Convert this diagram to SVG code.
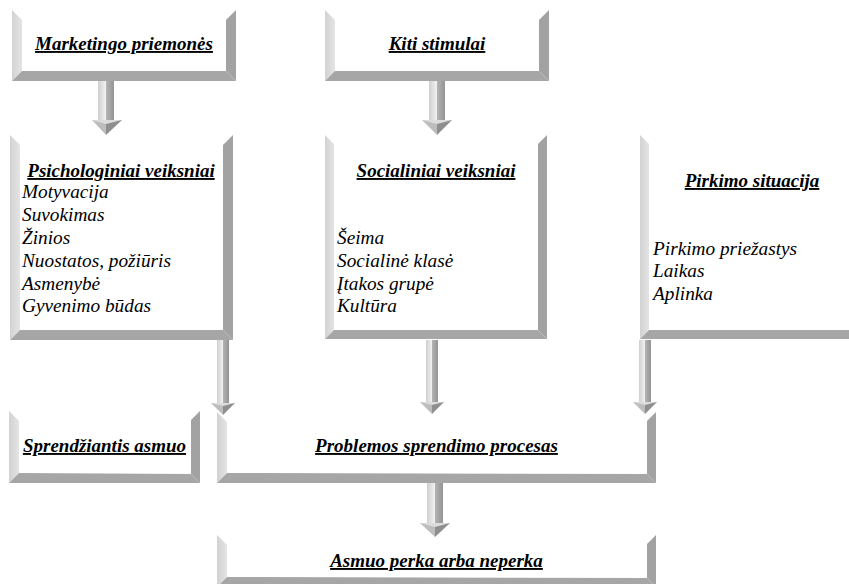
<svg xmlns="http://www.w3.org/2000/svg" width="849" height="584" viewBox="0 0 849 584">
  <style>
    .bl { fill: url(#bevelLeft); }
    .br { fill: #a2a2a2; }
    .bb { fill: #a6a6a6; }
    .title { font-family: "Liberation Serif", "Times New Roman", serif; font-size: 19px; font-weight: bold; font-style: italic; fill: #000; text-decoration: underline; text-decoration-thickness: 2px; text-anchor: middle; }
    .item { font-family: "Liberation Serif", "Times New Roman", serif; font-size: 19.3px; font-style: italic; fill: #000; }
    .sl { fill: url(#shaftLeft); }
    .sr { fill: url(#shaftRight); }
    .hl { fill: #bdbdbd; }
    .hr { fill: #8e8e8e; }
    .ht { fill: #dcdcdc; }
  </style>
  <defs>
    <linearGradient id="bevelLeft" x1="0" y1="0" x2="1" y2="0">
      <stop offset="0" stop-color="#d2d2d2"/>
      <stop offset="1" stop-color="#e4e4e4"/>
    </linearGradient>
    <linearGradient id="shaftLeft" x1="0" y1="0" x2="1" y2="0">
      <stop offset="0" stop-color="#cfcfcf"/>
      <stop offset="1" stop-color="#f2f2f2"/>
    </linearGradient>
    <linearGradient id="shaftRight" x1="0" y1="0" x2="1" y2="0">
      <stop offset="0" stop-color="#b4b4b4"/>
      <stop offset="1" stop-color="#949494"/>
    </linearGradient>
  </defs>

  <rect width="849" height="584" fill="#ffffff"/>

  <!-- connectors: block arrows -->
  <g id="connectors">
    <!-- Marketingo priemones -> Psichologiniai veiksniai -->
    <g id="arrow1">
      <rect class="sl" x="98" y="81" width="8" height="39"/>
      <rect class="sr" x="106" y="81" width="8" height="39"/>
      <polygon class="hl" points="92,120 106,120 106,135"/>
      <polygon class="hr" points="106,120 122,120 106,135"/>
      <polygon class="ht" points="92,120 122,120 106,124"/>
    </g>
    <!-- Kiti stimulai -> Socialiniai veiksniai -->
    <g id="arrow2">
      <rect class="sl" x="429" y="81" width="8" height="39"/>
      <rect class="sr" x="437" y="81" width="8" height="39"/>
      <polygon class="hl" points="422,120 437,120 437,135"/>
      <polygon class="hr" points="437,120 452,120 437,135"/>
      <polygon class="ht" points="422,120 452,120 437,124"/>
    </g>
    <!-- Psichologiniai veiksniai -> Problemos sprendimo procesas -->
    <g id="arrow3">
      <rect class="sl" x="217" y="340" width="6" height="63"/>
      <rect class="sr" x="223" y="340" width="6" height="63"/>
      <polygon class="hl" points="211,403 223,403 223,415"/>
      <polygon class="hr" points="223,403 235,403 223,415"/>
      <polygon class="ht" points="211,403 235,403 223,406"/>
    </g>
    <!-- Socialiniai veiksniai -> Problemos sprendimo procesas -->
    <g id="arrow4">
      <rect class="sl" x="426" y="340" width="6" height="62"/>
      <rect class="sr" x="432" y="340" width="6" height="62"/>
      <polygon class="hl" points="420,402 432,402 432,414"/>
      <polygon class="hr" points="432,402 444,402 432,414"/>
      <polygon class="ht" points="420,402 444,402 432,405"/>
    </g>
    <!-- Pirkimo situacija -> Problemos sprendimo procesas -->
    <g id="arrow5">
      <rect class="sl" x="639" y="340" width="6" height="62"/>
      <rect class="sr" x="645" y="340" width="6" height="62"/>
      <polygon class="hl" points="633,402 645,402 645,414"/>
      <polygon class="hr" points="645,402 657,402 645,414"/>
      <polygon class="ht" points="633,402 657,402 645,405"/>
    </g>
    <!-- Problemos sprendimo procesas -> Asmuo perka arba neperka -->
    <g id="arrow6">
      <rect class="sl" x="427" y="483" width="8" height="40"/>
      <rect class="sr" x="435" y="483" width="8" height="40"/>
      <polygon class="hl" points="420,523 435,523 435,537"/>
      <polygon class="hr" points="435,523 450,523 435,537"/>
      <polygon class="ht" points="420,523 450,523 435,527"/>
    </g>
  </g>

  <!-- Marketingo priemones -->
  <g id="marketingo">
    <polygon class="bl" points="12,10 22,20 22,71 12,81"/>
    <polygon class="br" points="236,10 226,20 226,71 236,81"/>
    <polygon class="bb" points="12,81 22,71 226,71 236,81"/>
    <text class="title" x="124" y="50">Marketingo priemonės</text>
  </g>

  <!-- Kiti stimulai -->
  <g id="kiti">
    <polygon class="bl" points="325,10 335,20 335,71 325,81"/>
    <polygon class="br" points="549,10 539,20 539,71 549,81"/>
    <polygon class="bb" points="325,81 335,71 539,71 549,81"/>
    <text class="title" x="437" y="50">Kiti stimulai</text>
  </g>

  <!-- Psichologiniai veiksniai -->
  <g id="psichologiniai">
    <polygon class="bl" points="10,135 20,145 20,330 10,340"/>
    <polygon class="br" points="233,135 223,145 223,330 233,340"/>
    <polygon class="bb" points="10,340 20,330 223,330 233,340"/>
    <text class="title" x="121" y="177">Psichologiniai veiksniai</text>
    <text class="item" x="22" y="198">Motyvacija</text>
    <text class="item" x="22" y="221">Suvokimas</text>
    <text class="item" x="22" y="244">Žinios</text>
    <text class="item" x="22" y="267">Nuostatos, požiūris</text>
    <text class="item" x="22" y="290">Asmenybė</text>
    <text class="item" x="22" y="312">Gyvenimo būdas</text>
  </g>

  <!-- Socialiniai veiksniai -->
  <g id="socialiniai">
    <polygon class="bl" points="325,135 334,144 334,330 325,339"/>
    <polygon class="br" points="547,135 538,144 538,330 547,339"/>
    <polygon class="bb" points="325,339 334,330 538,330 547,339"/>
    <text class="title" x="436" y="177">Socialiniai veiksniai</text>
    <text class="item" x="337" y="244">Šeima</text>
    <text class="item" x="337" y="267">Socialinė klasė</text>
    <text class="item" x="337" y="290">Įtakos grupė</text>
    <text class="item" x="337" y="312">Kultūra</text>
  </g>

  <!-- Pirkimo situacija -->
  <g id="pirkimo">
    <polygon class="bl" points="640,135 649,144 649,330 640,339"/>
    <polygon class="bb" points="640,339 649,330 860,330 860,339"/>
    <text class="title" x="752" y="187">Pirkimo situacija</text>
    <text class="item" x="653" y="255">Pirkimo priežastys</text>
    <text class="item" x="653" y="277">Laikas</text>
    <text class="item" x="653" y="300">Aplinka</text>
  </g>

  <!-- Sprendziantis asmuo -->
  <g id="sprendziantis">
    <polygon class="bl" points="9,411 19,421 19,473 9,483"/>
    <polygon class="br" points="200,411 191,420 191,474 200,483"/>
    <polygon class="bb" points="9,483 19,473 191,474 200,483"/>
    <text class="title" x="104.5" y="452">Sprendžiantis asmuo</text>
  </g>

  <!-- Problemos sprendimo procesas -->
  <g id="problemos">
    <polygon class="bl" points="217,412 227,422 227,473 217,483"/>
    <polygon class="br" points="656,412 647,421 647,474 656,483"/>
    <polygon class="bb" points="217,483 227,473 647,474 656,483"/>
    <text class="title" x="436.5" y="452">Problemos sprendimo procesas</text>
  </g>

  <!-- Asmuo perka arba neperka -->
  <g id="asmuo">
    <polygon class="bl" points="217,535 227,545 227,577 217,587"/>
    <polygon class="br" points="656,535 647,544 647,578 656,587"/>
    <polygon class="bb" points="217,587 227,577 647,578 656,587"/>
    <text class="title" x="436.5" y="567">Asmuo perka arba neperka</text>
  </g>
</svg>
